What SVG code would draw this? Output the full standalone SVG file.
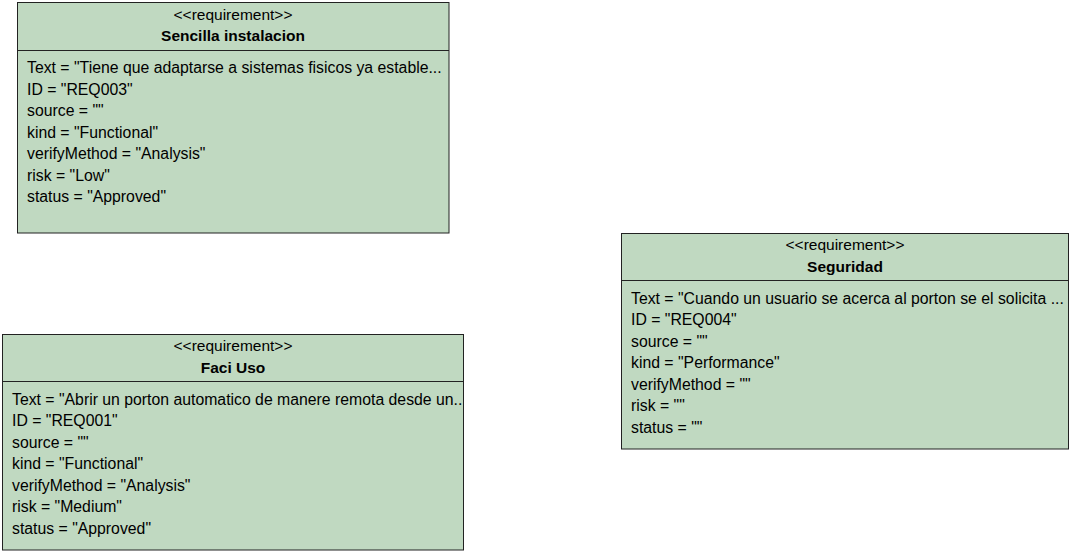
<svg xmlns="http://www.w3.org/2000/svg" width="1074" height="556" viewBox="0 0 1074 556">
<style>
.box{fill:#c0d9c1;stroke:#222;stroke-width:1}
.div{stroke:#222;stroke-width:1}
.st{font-family:"Liberation Sans",Arial,sans-serif;font-size:15.5px;fill:#000;text-anchor:middle}
.nm{font-family:"Liberation Sans",Arial,sans-serif;font-size:15.5px;font-weight:bold;fill:#000;text-anchor:middle}
.at{font-family:"Liberation Sans",Arial,sans-serif;font-size:15.8px;fill:#000}
</style>
<defs>
<clipPath id="c1"><rect x="17.5" y="51" width="431" height="182"/></clipPath>
<clipPath id="c2"><rect x="2.5" y="382" width="460.5" height="168"/></clipPath>
<clipPath id="c3"><rect x="621.5" y="281" width="446" height="168"/></clipPath>
</defs>
<g id="connectors"></g>
<g id="req-sencilla">
<rect class="box" x="17.5" y="2.5" width="431.5" height="230.5"/>
<line class="div" x1="17.5" y1="50.5" x2="449" y2="50.5"/>
<text class="st" x="233" y="19.5">&lt;&lt;requirement&gt;&gt;</text>
<text class="nm" x="233" y="41">Sencilla instalacion</text>
<g clip-path="url(#c1)">
<text class="at" x="27" y="73">Text = "Tiene que adaptarse a sistemas fisicos ya estable...</text>
<text class="at" x="27" y="94.5">ID = "REQ003"</text>
<text class="at" x="27" y="116">source = ""</text>
<text class="at" x="27" y="137.5">kind = "Functional"</text>
<text class="at" x="27" y="159">verifyMethod = "Analysis"</text>
<text class="at" x="27" y="180.5">risk = "Low"</text>
<text class="at" x="27" y="202">status = "Approved"</text>
</g>
</g>
<g id="req-faci-uso">
<rect class="box" x="2.5" y="334.5" width="461" height="215.5"/>
<line class="div" x1="2.5" y1="381.5" x2="463.5" y2="381.5"/>
<text class="st" x="233" y="351">&lt;&lt;requirement&gt;&gt;</text>
<text class="nm" x="233" y="372.5">Faci Uso</text>
<g clip-path="url(#c2)">
<text class="at" x="12" y="404.5">Text = "Abrir un porton automatico de manere remota desde un...</text>
<text class="at" x="12" y="426">ID = "REQ001"</text>
<text class="at" x="12" y="447.5">source = ""</text>
<text class="at" x="12" y="469">kind = "Functional"</text>
<text class="at" x="12" y="490.5">verifyMethod = "Analysis"</text>
<text class="at" x="12" y="512">risk = "Medium"</text>
<text class="at" x="12" y="533.5">status = "Approved"</text>
</g>
</g>
<g id="req-seguridad">
<rect class="box" x="621.5" y="233.5" width="447" height="215.5"/>
<line class="div" x1="621.5" y1="280.5" x2="1068.5" y2="280.5"/>
<text class="st" x="845" y="250">&lt;&lt;requirement&gt;&gt;</text>
<text class="nm" x="845" y="271.5">Seguridad</text>
<g clip-path="url(#c3)">
<text class="at" x="631" y="303.5">Text = "Cuando un usuario se acerca al porton se el solicita ...</text>
<text class="at" x="631" y="325">ID = "REQ004"</text>
<text class="at" x="631" y="346.5">source = ""</text>
<text class="at" x="631" y="368">kind = "Performance"</text>
<text class="at" x="631" y="389.5">verifyMethod = ""</text>
<text class="at" x="631" y="411">risk = ""</text>
<text class="at" x="631" y="432.5">status = ""</text>
</g>
</g>
</svg>
